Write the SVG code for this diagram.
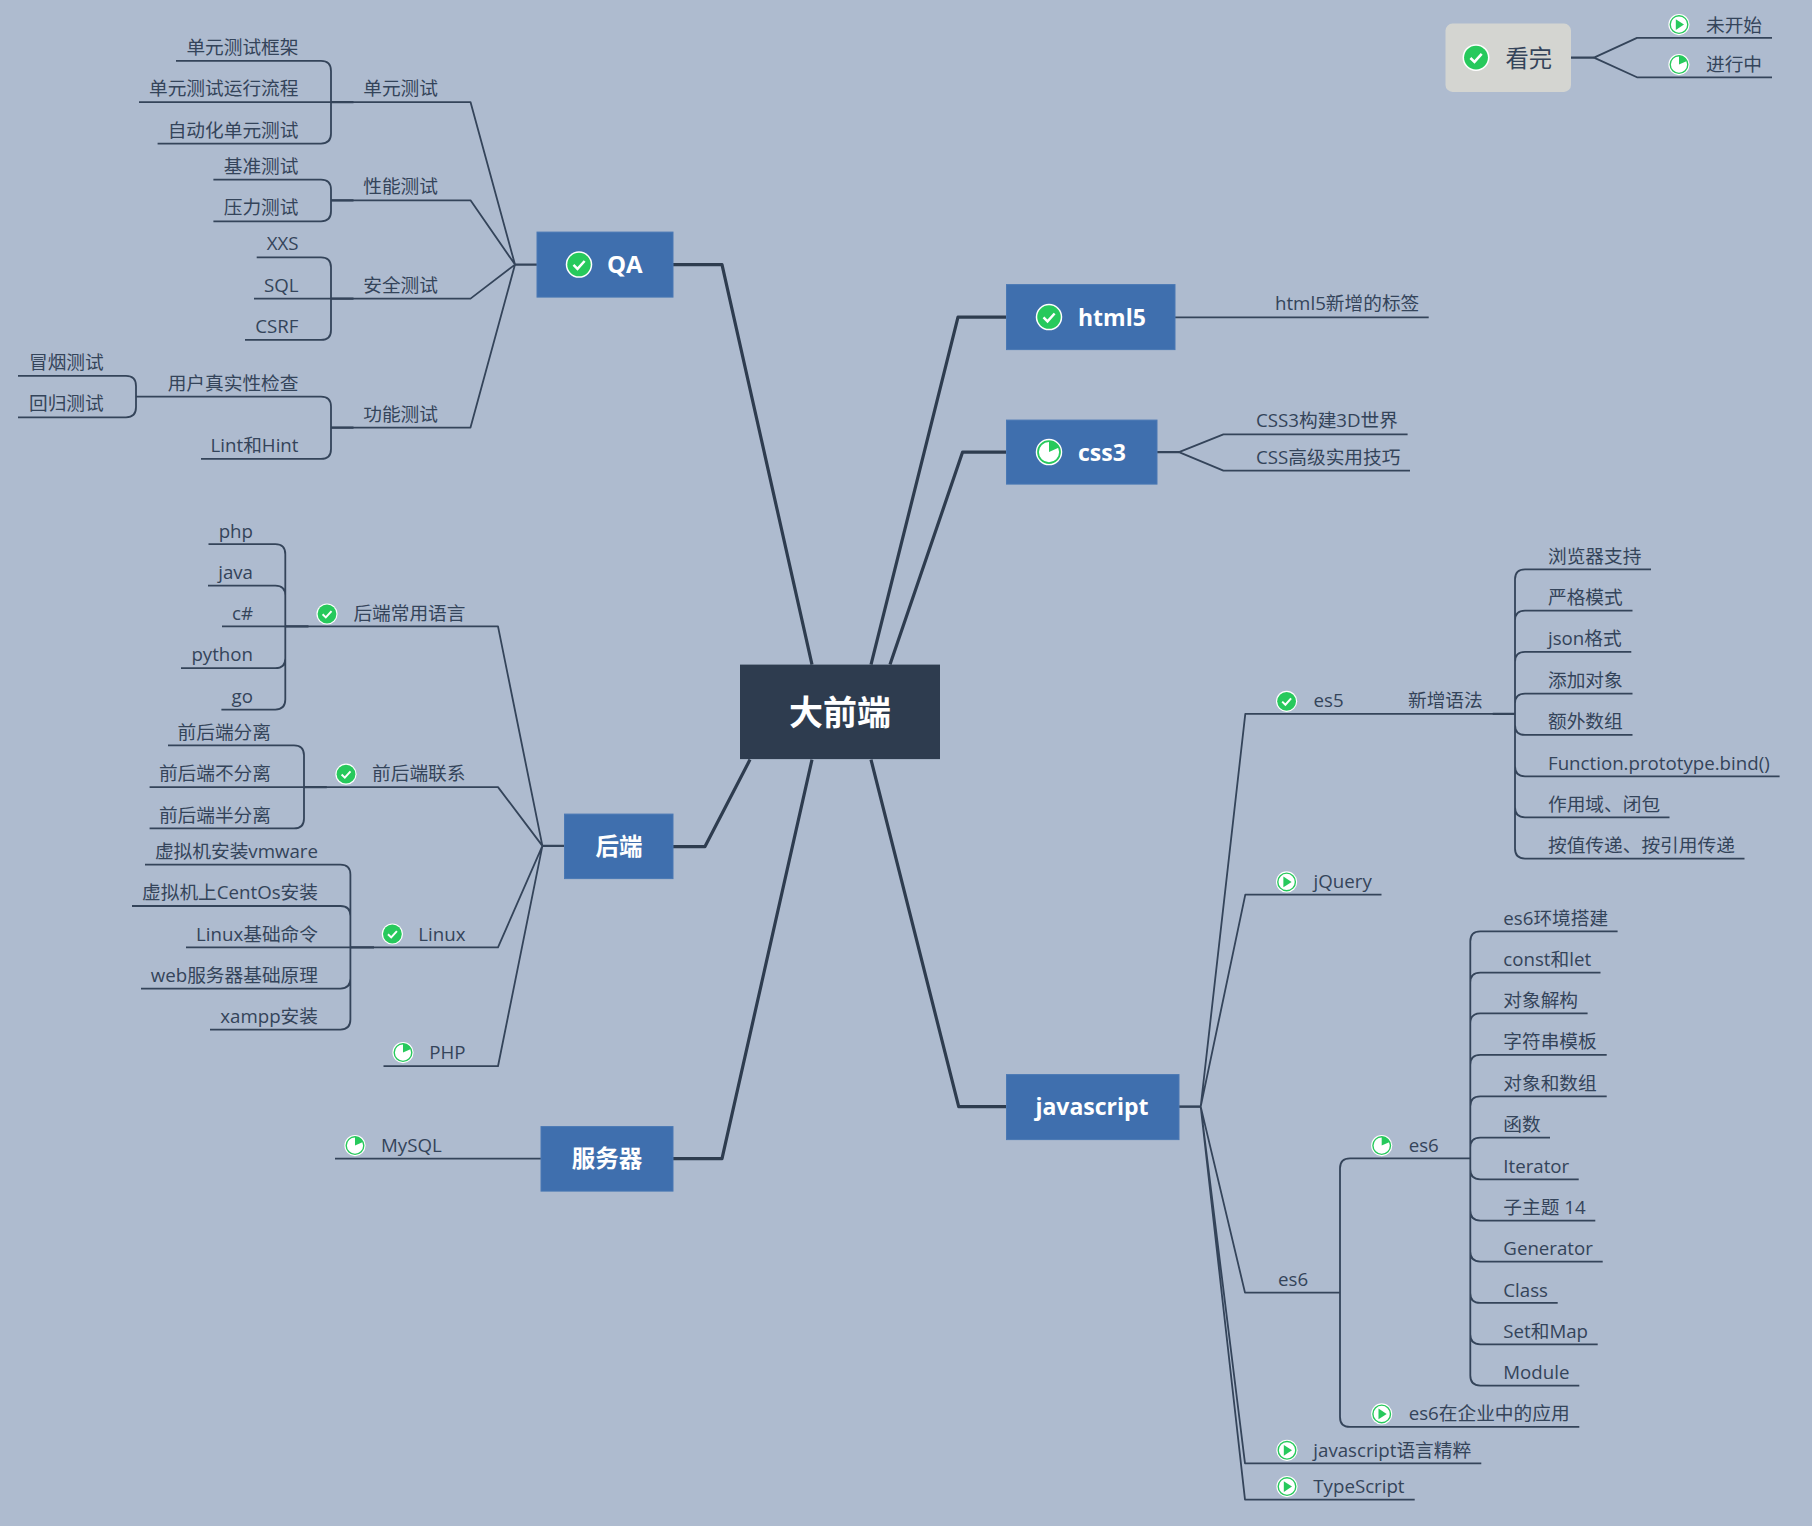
<svg xmlns="http://www.w3.org/2000/svg" width="1812" height="1526" viewBox="0 0 1812 1526">
<style>
text{font-family:"Open Sans","Noto Sans CJK SC","Noto Sans",sans-serif;font-size:18.7px;fill:#34445a}
.e{text-anchor:end}
.m{text-anchor:middle}
text.b{font-weight:700;fill:#fff;font-size:23px}
text.c{font-size:23.5px}
.l{fill:none;stroke:#34445a;stroke-width:1.8;stroke-linejoin:round}
.s{fill:none;stroke:#34445a;stroke-width:2.3}
.t{fill:none;stroke:#2e3c4f;stroke-width:3.2;stroke-linejoin:round}
.box{fill:#3f6fae;stroke:#4a78b4;stroke-width:1}
</style>
<defs>
<g id="check"><circle r="10.6" fill="#fff"/><circle r="9.4" fill="#27c95c"/><path d="M-4.4 .3L-1.2 3.4L4.5-2.9" fill="none" stroke="#fff" stroke-width="2"/></g>
<g id="play"><circle r="10.6" fill="#fff"/><circle r="8.8" fill="#fff" stroke="#27c95c" stroke-width="1.4"/><path d="M-3.2-5.4L5 0L-3.2 5.4Z" fill="#27c95c"/></g>
<g id="pie"><circle r="10.6" fill="#fff"/><circle r="8.8" fill="#fff" stroke="#27c95c" stroke-width="1.4"/><path d="M0 0V-8.8A8.8 8.8 0 0 1 8 -3.6Z" fill="#27c95c"/></g>
</defs>
<rect width="1812" height="1526" fill="#aebbcf"/>
<g id="diagram" transform="translate(0 .6)">
<g id="connectors">
<path class="t" d="M673 264H722L812 664M673 846H705L750 759M673 1158H722L812 759M1006 316.5H958L871 664M1006 451.5H962.6L890 664M1006 1106H958.7L871 759"/>
<path class="s" d="M537 264H515M564 845.3H542.4M1179 1106H1200.7M1157 451.5H1179M1571 57H1594M331 101.5H353.5M331 199.7H353.5M331 298H353.5M331 427H353.5M285.3 625.8H308.5M304 786.5H326.8M350.4 946.7H374M1492.7 713.3H1515"/>
<g id="qa-links">
<path class="l" d="M515 264L470.5 101.5H139M515 264L470.5 199.7H331M515 264L470.5 298H254M515 264L470.5 427H331"/>
<path class="l" d="M176 60.3H321Q331 60.3 331 70.3V133Q331 143 321 143H157.6"/>
<path class="l" d="M213.4 179H321Q331 179 331 189V210.7Q331 220.7 321 220.7H213.4"/>
<path class="l" d="M256.7 256.7H321Q331 256.7 331 266.7V329.3Q331 339.3 321 339.3H245"/>
<path class="l" d="M331 406Q331 396 321 396H136M331 406V448.3Q331 458.3 321 458.3H201"/>
<path class="l" d="M18 375.3H126Q136 375.3 136 385.3V406.7Q136 416.7 126 416.7H18"/>
</g>
<g id="backend-links">
<path class="l" d="M542.4 845.3L498 625.8H222M542.4 845.3L498 786.5H149.6M542.4 845.3L498 946.7H186M542.4 845.3L498 1065.6H383.5"/>
<path class="l" d="M208.5 543.6H275.3Q285.3 543.6 285.3 553.6V699Q285.3 709 275.3 709H221.4M208 585H275.3Q285.3 585 285.3 595M181 667.6H275.3Q285.3 667.6 285.3 657.6"/>
<path class="l" d="M168 744.7H294Q304 744.7 304 754.7V817.8Q304 827.8 294 827.8H149.6"/>
<path class="l" d="M145 864H340.4Q350.4 864 350.4 874V1019Q350.4 1029 340.4 1029H210M132 905.4H340.4Q350.4 905.4 350.4 915.4M141 988H340.4Q350.4 988 350.4 978"/>
<path class="l" d="M335 1158H541"/>
</g>
<g id="front-links">
<path class="l" d="M1175 316.7H1428.7M1179 451.5L1223.4 433.7H1407.6M1179 451.5L1223.4 470H1410"/>
<path class="l" d="M1594 57L1637 37.3H1772M1594 57L1637 76.7H1772"/>
</g>
<g id="js-links">
<path class="l" d="M1179 1106H1200.7L1245.3 713.3H1515M1200.7 1106L1245.3 894H1381.5M1200.7 1106L1245 1292H1340M1200.7 1106L1245 1462.7H1481.3M1200.7 1106L1245 1499H1414.7"/>
<path class="l" d="M1651 568.7H1525Q1515 568.7 1515 578.7V848Q1515 858 1525 858H1744.5M1632.5 610H1525Q1515 610 1515 620M1631.3 651.3H1525Q1515 651.3 1515 661.3M1632.5 693H1525Q1515 693 1515 703M1632.5 734.3H1525Q1515 734.3 1515 724.3M1779.6 775.7H1525Q1515 775.7 1515 765.7M1669.5 816.7H1525Q1515 816.7 1515 806.7"/>
<path class="l" d="M1617.6 930.7H1480.3Q1470.3 930.7 1470.3 940.7V1375Q1470.3 1385 1480.3 1385H1579.3M1600.5 972H1480.3Q1470.3 972 1470.3 982M1587.6 1012.7H1480.3Q1470.3 1012.7 1470.3 1022.7M1606.7 1054.3H1480.3Q1470.3 1054.3 1470.3 1064.3M1606.7 1095.7H1480.3Q1470.3 1095.7 1470.3 1105.7M1550 1137H1480.3Q1470.3 1137 1470.3 1147M1578.7 1178.7H1480.3Q1470.3 1178.7 1470.3 1168.7M1595.3 1220H1480.3Q1470.3 1220 1470.3 1210M1602.7 1261H1480.3Q1470.3 1261 1470.3 1251M1557.7 1302.3H1480.3Q1470.3 1302.3 1470.3 1292.3M1597.7 1343.7H1480.3Q1470.3 1343.7 1470.3 1333.7"/>
<path class="l" d="M1470.3 1157.7H1350Q1340 1157.7 1340 1167.7V1416.3Q1340 1426.3 1350 1426.3H1579.3"/>
</g>
</g>
<g id="n-root"><rect x="740" y="664" width="200" height="94.5" fill="#2e3c4f"/><text class="b m" x="840" y="724" style="font-size:34px">大前端</text></g>
<g id="n-qa"><rect class="box" x="537" y="231.5" width="136" height="65"/><use href="#check" transform="translate(579 264) scale(1.25)"/><text class="b" x="607" y="272" style="font-size:24px">QA</text></g>
<g id="n-backend"><rect class="box" x="564.5" y="813.5" width="108.5" height="64.5"/><text class="b m c" x="619" y="854">后端</text></g>
<g id="n-server"><rect class="box" x="541" y="1126" width="132" height="64.5"/><text class="b m c" x="607" y="1166">服务器</text></g>
<g id="n-html5"><rect class="box" x="1006.5" y="284" width="168.5" height="65"/><use href="#check" transform="translate(1049 316.5) scale(1.25)"/><text class="b" x="1078" y="325">html5</text></g>
<g id="n-css3"><rect class="box" x="1006.5" y="419.5" width="150.5" height="64"/><use href="#pie" transform="translate(1049 451.5) scale(1.25)"/><text class="b" x="1078" y="460">css3</text></g>
<g id="n-js"><rect class="box" x="1006.5" y="1074" width="172.5" height="65"/><text class="b m" x="1092" y="1114">javascript</text></g>
<g id="n-legend"><rect x="1445.5" y="23" width="125.5" height="68.3" rx="7" fill="#d4d5d1"/><use href="#check" transform="translate(1476 57) scale(1.27)"/><text x="1505.5" y="66" style="font-size:23.3px">看完</text></g>
<g id="n-legend-1"><use href="#play" x="1679" y="24"/><text x="1706" y="31">未开始</text></g>
<g id="n-legend-2"><use href="#pie" x="1679" y="64"/><text x="1706" y="70">进行中</text></g>
<g id="n-unit"><text class="e" x="438" y="94.5">单元测试</text></g>
<g id="n-unit-1"><text class="e" x="298.5" y="53.5">单元测试框架</text></g>
<g id="n-unit-2"><text class="e" x="298.5" y="94.5">单元测试运行流程</text></g>
<g id="n-unit-3"><text class="e" x="298.5" y="136">自动化单元测试</text></g>
<g id="n-perf"><text class="e" x="438" y="192.7">性能测试</text></g>
<g id="n-perf-1"><text class="e" x="298.5" y="172">基准测试</text></g>
<g id="n-perf-2"><text class="e" x="298.5" y="213.7">压力测试</text></g>
<g id="n-sec"><text class="e" x="438" y="291">安全测试</text></g>
<g id="n-sec-1"><text class="e" x="298.5" y="249.7">XXS</text></g>
<g id="n-sec-2"><text class="e" x="298.5" y="291">SQL</text></g>
<g id="n-sec-3"><text class="e" x="298.5" y="332.3">CSRF</text></g>
<g id="n-func"><text class="e" x="438" y="420">功能测试</text></g>
<g id="n-func-1"><text class="e" x="298.5" y="389">用户真实性检查</text></g>
<g id="n-func-2"><text class="e" x="298.5" y="451.3">Lint和Hint</text></g>
<g id="n-func-1-1"><text x="29" y="368.3">冒烟测试</text></g>
<g id="n-func-1-2"><text x="29" y="409.7">回归测试</text></g>
<g id="n-lang"><use href="#check" x="327" y="613.4"/><text class="e" x="465.5" y="619">后端常用语言</text></g>
<g id="n-lang-1"><text class="e" x="253" y="537">php</text></g>
<g id="n-lang-2"><text class="e" x="253" y="578">java</text></g>
<g id="n-lang-3"><text class="e" x="253" y="619">c#</text></g>
<g id="n-lang-4"><text class="e" x="253" y="660.5">python</text></g>
<g id="n-lang-5"><text class="e" x="253" y="702">go</text></g>
<g id="n-fb"><use href="#check" x="346" y="773.6"/><text class="e" x="465.5" y="779.5">前后端联系</text></g>
<g id="n-fb-1"><text class="e" x="271" y="738">前后端分离</text></g>
<g id="n-fb-2"><text class="e" x="271" y="779.5">前后端不分离</text></g>
<g id="n-fb-3"><text class="e" x="271" y="821">前后端半分离</text></g>
<g id="n-linux"><use href="#check" x="392.4" y="933.4"/><text class="e" x="465.5" y="940">Linux</text></g>
<g id="n-linux-1"><text class="e" x="318" y="857">虚拟机安装vmware</text></g>
<g id="n-linux-2"><text class="e" x="318" y="898.5">虚拟机上CentOs安装</text></g>
<g id="n-linux-3"><text class="e" x="318" y="940">Linux基础命令</text></g>
<g id="n-linux-4"><text class="e" x="318" y="981">web服务器基础原理</text></g>
<g id="n-linux-5"><text class="e" x="318" y="1022">xampp安装</text></g>
<g id="n-php"><use href="#pie" x="403" y="1052"/><text class="e" x="465.5" y="1058.5">PHP</text></g>
<g id="n-mysql"><use href="#pie" x="355" y="1145"/><text x="381" y="1151">MySQL</text></g>
<g id="n-html5-1"><text x="1275" y="309.5">html5新增的标签</text></g>
<g id="n-css3-1"><text x="1256" y="426.5">CSS3构建3D世界</text></g>
<g id="n-css3-2"><text x="1256" y="463">CSS高级实用技巧</text></g>
<g id="n-es5"><use href="#check" x="1286.6" y="700.7"/><text x="1313.6" y="706.5">es5</text></g>
<g id="n-es5-syntax"><text x="1408" y="706.5">新增语法</text></g>
<g id="n-es5-1"><text x="1548" y="562">浏览器支持</text></g>
<g id="n-es5-2"><text x="1548" y="603">严格模式</text></g>
<g id="n-es5-3"><text x="1548" y="644.5">json格式</text></g>
<g id="n-es5-4"><text x="1548" y="686">添加对象</text></g>
<g id="n-es5-5"><text x="1548" y="727.5">额外数组</text></g>
<g id="n-es5-6"><text x="1548" y="769">Function.prototype.bind()</text></g>
<g id="n-es5-7"><text x="1548" y="810">作用域、闭包</text></g>
<g id="n-es5-8"><text x="1548" y="851">按值传递、按引用传递</text></g>
<g id="n-jquery"><use href="#play" x="1286.6" y="881.3"/><text x="1313.6" y="887">jQuery</text></g>
<g id="n-es6"><text x="1278" y="1285">es6</text></g>
<g id="n-es6a"><use href="#pie" x="1381.7" y="1145"/><text x="1408.7" y="1151">es6</text></g>
<g id="n-es6a-1"><text x="1503.3" y="924">es6环境搭建</text></g>
<g id="n-es6a-2"><text x="1503.3" y="965">const和let</text></g>
<g id="n-es6a-3"><text x="1503.3" y="1006">对象解构</text></g>
<g id="n-es6a-4"><text x="1503.3" y="1047.5">字符串模板</text></g>
<g id="n-es6a-5"><text x="1503.3" y="1089">对象和数组</text></g>
<g id="n-es6a-6"><text x="1503.3" y="1130">函数</text></g>
<g id="n-es6a-7"><text x="1503.3" y="1172">Iterator</text></g>
<g id="n-es6a-8"><text x="1503.3" y="1213">子主题 14</text></g>
<g id="n-es6a-9"><text x="1503.3" y="1254.5">Generator</text></g>
<g id="n-es6a-10"><text x="1503.3" y="1296">Class</text></g>
<g id="n-es6a-11"><text x="1503.3" y="1337">Set和Map</text></g>
<g id="n-es6a-12"><text x="1503.3" y="1378.5">Module</text></g>
<g id="n-es6b"><use href="#play" x="1381.7" y="1413.3"/><text x="1408.7" y="1419.5">es6在企业中的应用</text></g>
<g id="n-jsgood"><use href="#play" x="1287" y="1449.7"/><text x="1313.3" y="1456">javascript语言精粹</text></g>
<g id="n-ts"><use href="#play" x="1287" y="1486"/><text x="1313.3" y="1492">TypeScript</text></g>
</g>
</svg>
